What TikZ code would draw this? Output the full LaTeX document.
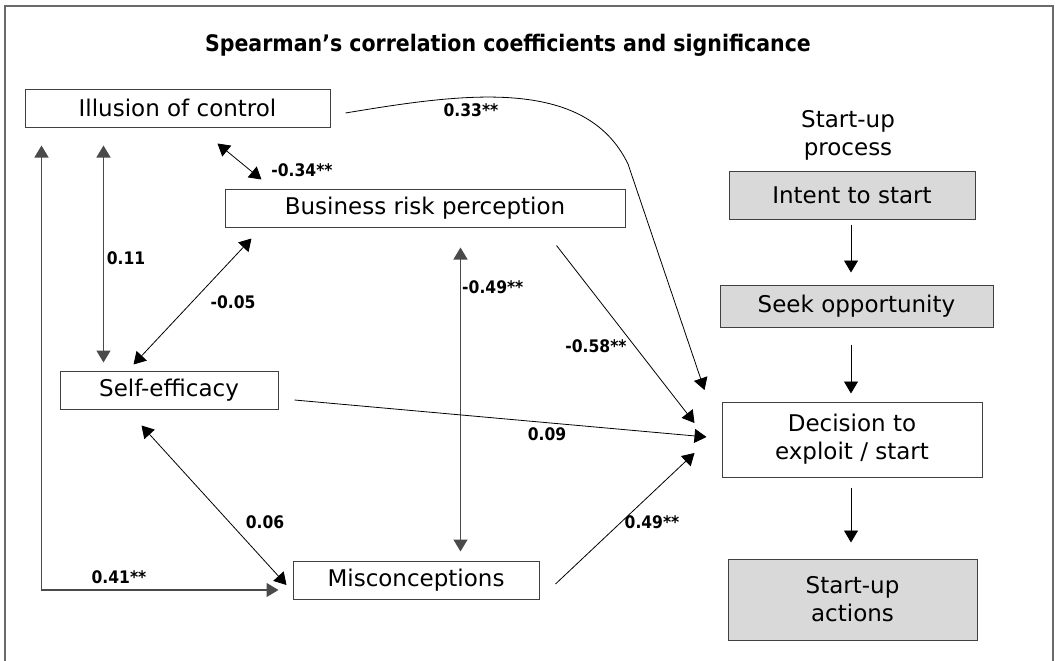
\documentclass[tikz,border=0pt]{standalone}
\usepackage{fontspec}
\setmainfont{DejaVu Sans}
\newfontfamily\condfont{DejaVu Sans Condensed}
\usetikzlibrary{arrows.meta,calc}
\definecolor{boxc}{HTML}{404040}
\definecolor{framec}{HTML}{6A6A6A}
\definecolor{grayfill}{HTML}{D9D9D9}
\definecolor{vline}{HTML}{4A4A4A}
\begin{document}
\begin{tikzpicture}[x=1pt,y=-1pt,
  box/.style={draw=boxc, line width=1pt, inner sep=0pt, align=center,
    font=\fontsize{23}{28}\selectfont},
  grbox/.style={box, fill=grayfill},
  tip/.style={-{Triangle[length=12pt,width=14pt]}},
  biptip/.style={{Triangle[length=12pt,width=14pt]}-{Triangle[length=12pt,width=14pt]}},
  thinline/.style={draw=black, line width=0.8pt},
  grayline/.style={draw=vline, line width=1.3pt},
  num/.style={font=\condfont\bfseries\fontsize{17.3}{20}\selectfont, inner sep=0pt},
  plain/.style={font=\fontsize{23}{28}\selectfont, align=center, inner sep=0pt}
]
\useasboundingbox (0,0) rectangle (1055,661);
% frame
\draw[framec, line width=1.6pt] (5,661) -- (5,6) -- (1053,6) -- (1053,661);
% title
\node[font=\condfont\bfseries\fontsize{22.8}{26}\selectfont, inner sep=0pt] (title) at (508,45)
  {Spearman’s correlation coefficients and significance};

% boxes
\node[box, minimum width=305pt, minimum height=38pt] (ill) at (177.5,108) {Illusion of control};
\node[box, minimum width=400pt, minimum height=38pt] (brp) at (425,208) {Business risk perception};
\node[box, minimum width=218pt, minimum height=38pt] (self) at (169,390) {Self-efficacy};
\node[box, minimum width=246pt, minimum height=38pt] (mis) at (416,580) {Misconceptions};

\node[plain] (sup) at (848,135) {Start-up\\process};
\node[grbox, minimum width=246pt, minimum height=48pt] (intent) at (852,195) {Intent to start};
\node[grbox, minimum width=273pt, minimum height=42pt] (seek) at (856.5,306) {Seek opportunity};
\node[box, minimum width=260pt, minimum height=75pt] (dec) at (852,439.5) {Decision to\\exploit / start};
\node[grbox, minimum width=249pt, minimum height=81pt] (act) at (852.5,599.5) {Start-up\\actions};

% connector end points
\coordinate (ill41) at ($(ill.south west)+(17,18)$);
\coordinate (mis41) at ($(mis.west)+(-14,10)$);
\coordinate (ill11) at ($(ill.south west)+(79,18)$);
\coordinate (self11) at ($(self.north west)+(44,-8)$);
\coordinate (ill34) at ($(ill.south west)+(193,16)$);
\coordinate (brp34) at ($(brp.north west)+(37,-9)$);
\coordinate (brp05) at ($(brp.south west)+(27,11)$);
\coordinate (self05) at ($(self.north west)+(74,-6)$);
\coordinate (brp49) at ($(brp.south west)+(236,20)$);
\coordinate (mis49) at ($(mis.north west)+(168,-9)$);
\coordinate (brp58) at ($(brp.south east)+(-69,18)$);
\coordinate (dec58) at ($(dec.west)+(-27,-16.5)$);
\coordinate (ill33) at ($(ill.east)+(15,5)$);
\coordinate (dec33) at ($(dec.west)+(-17,-49.5)$);
\coordinate (self09) at ($(self.east)+(16,10)$);
\coordinate (dec09) at ($(dec.west)+(-15,-2.5)$);
\coordinate (self06) at ($(self.south west)+(82,16)$);
\coordinate (mis06) at ($(mis.west)+(-6,5)$);
\coordinate (mis49b) at ($(mis.east)+(16,4)$);
\coordinate (dec49) at ($(dec.west)+(-27,13.5)$);

% correlation connectors
\draw[grayline, biptip] (ill41) |- (mis41);
\draw[grayline, biptip] (ill11) -- (self11);
\draw[thinline, biptip] (ill34) -- (brp34);
\draw[thinline, biptip] (brp05) -- (self05);
\draw[grayline, biptip] (brp49) -- (mis49);
\draw[thinline, tip] (brp58) -- (dec58);
\draw[thinline, tip] (ill33) .. controls (460,94) and (585,75) .. (628,164) -- (dec33);
\draw[thinline, tip] (self09) -- (dec09);
\draw[thinline, biptip] (self06) -- (mis06);
\draw[thinline, tip] (mis49b) -- (dec49);

% process flow
\draw[thinline, tip, shorten <=5pt, shorten >=12pt] ($(intent.south)+(-1,0)$) -- ($(intent.south |- seek.north)+(-1,0)$);
\draw[thinline, tip, shorten <=17pt, shorten >=8pt] ($(dec.north |- seek.south)+(-1,0)$) -- ($(dec.north)+(-1,0)$);
\draw[thinline, tip, shorten <=10pt, shorten >=16pt] ($(dec.south)+(-1,0)$) -- ($(dec.south |- act.north)+(-1,0)$);

% labels
\node[num] (l33) at (471,110) {0.33**};
\node[num] (l34) at (302,170) {-0.34**};
\node[num] (l11) at (126,258) {0.11};
\node[num] (l05) at (233,302) {-0.05};
\node[num, anchor=west] (l49) at (462,287) {-0.49**};
\node[num] (l58) at (596,346) {-0.58**};
\node[num] (l09) at (547,434) {0.09};
\node[num] (l06) at (265,522) {0.06};
\node[num] (l49b) at (652,522) {0.49**};
\node[num] (l41) at (119,577) {0.41**};
\end{tikzpicture}
\end{document}
